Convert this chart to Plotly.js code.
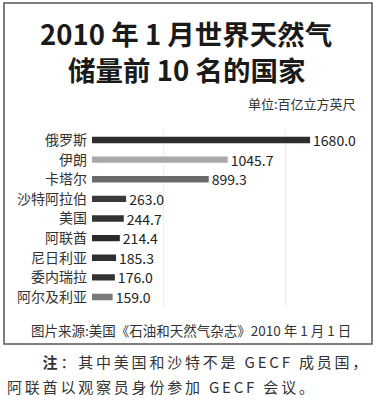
<!DOCTYPE html>
<html><head><meta charset="utf-8">
<script src="https://cdn.plot.ly/plotly-3.0.1.min.js"></script>
<style>html,body{margin:0;padding:0;background:#fff;}#chart{width:376px;height:400px;}</style>
</head><body><div id="chart"></div>
<script>
const countries = ["俄罗斯","伊朗","卡塔尔","沙特阿拉伯","美国","阿联酋","尼日利亚","委内瑞拉","阿尔及利亚"];
const reserves = [1680.0,1045.7,899.3,263.0,244.7,214.4,185.3,176.0,159.0];
const valueLabels = ["1680.0","1045.7","899.3","263.0","244.7","214.4","185.3","176.0","159.0"];
const barColors = ["#2e2e2e","#a8a8a8","#6a6a6a","#3a3a3a","#333333","#2a2a2a","#2f2f2f","#333333","#7a7a7a"];

const font = "'Noto Sans CJK SC','Noto Sans',sans-serif";
const trace = {
  type:"bar", orientation:"h", y:countries, x:reserves,
  text:valueLabels, textposition:"outside", cliponaxis:false, constraintext:"none",
  textfont:{family:font,size:14,color:"#222"},
  marker:{color:barColors, line:{width:0}}, width:0.32, hoverinfo:"skip"
};
const layout = {
  width:376, height:400, margin:{l:0,r:0,t:0,b:0},
  paper_bgcolor:"#fff", plot_bgcolor:"rgba(0,0,0,0)", showlegend:false,
  font:{family:font,color:"#333"},
  xaxis:{domain:[92/376,372/376], range:[0,2157], showticklabels:false, zeroline:false,
         showgrid:true, gridcolor:"#ececec", gridwidth:1, tick0:547, dtick:940, ticks:"", showline:false},
  yaxis:{domain:[1-306.8/400,1-130.2/400], autorange:"reversed", type:"category",
         tickfont:{family:font,size:14,color:"#333"}, ticks:"", ticklabelstandoff:4, showline:false, showgrid:false, zeroline:false},
  shapes:[{type:"rect",xref:"paper",yref:"paper",x0:4/376,x1:372/376,y0:1-344/400,y1:1-3/400,line:{color:"#555",width:1.5},fillcolor:"rgba(0,0,0,0)"}],
  annotations:[
    {text:"<b>2010 年 1 月世界天然气</b>",xref:"paper",yref:"paper",x:186/376,y:1-33/400,xanchor:"center",yanchor:"middle",showarrow:false,font:{family:font,size:27.5,color:"#1a1a1a"}},
    {text:"<b>储量前 10 名的国家</b>",xref:"paper",yref:"paper",x:186/376,y:1-69/400,xanchor:"center",yanchor:"middle",showarrow:false,font:{family:font,size:27.5,color:"#1a1a1a"}},
    {text:"单位:百亿立方英尺",xref:"paper",yref:"paper",x:358/376,y:1-103/400,xanchor:"right",yanchor:"middle",showarrow:false,font:{family:font,size:13,color:"#333"}},
    {text:"图片来源:美国《石油和天然气杂志》2010 年 1 月 1 日",xref:"paper",yref:"paper",x:191/376,y:1-330/400,xanchor:"center",yanchor:"middle",showarrow:false,font:{family:font,size:13.5,color:"#333"}},
    {text:"<b>注</b>：其中美国和沙特不是 GECF 成员国，",xref:"paper",yref:"paper",x:206/376,y:1-361/400,xanchor:"center",yanchor:"middle",showarrow:false,font:{family:font,size:15,color:"#333"}},
    {text:"阿联酋以观察员身份参加 GECF 会议。",xref:"paper",yref:"paper",x:162/376,y:1-386/400,xanchor:"center",yanchor:"middle",showarrow:false,font:{family:font,size:15,color:"#333"}}
  ]
};
Plotly.newPlot("chart",[trace],layout,{staticPlot:true,displayModeBar:false}).then(function(gd){
  const texts = gd.querySelectorAll(".annotation-text");
  [4,5].forEach(function(i){ if(texts[i]) texts[i].style.letterSpacing = "2.8px"; });
});
</script></body></html>
